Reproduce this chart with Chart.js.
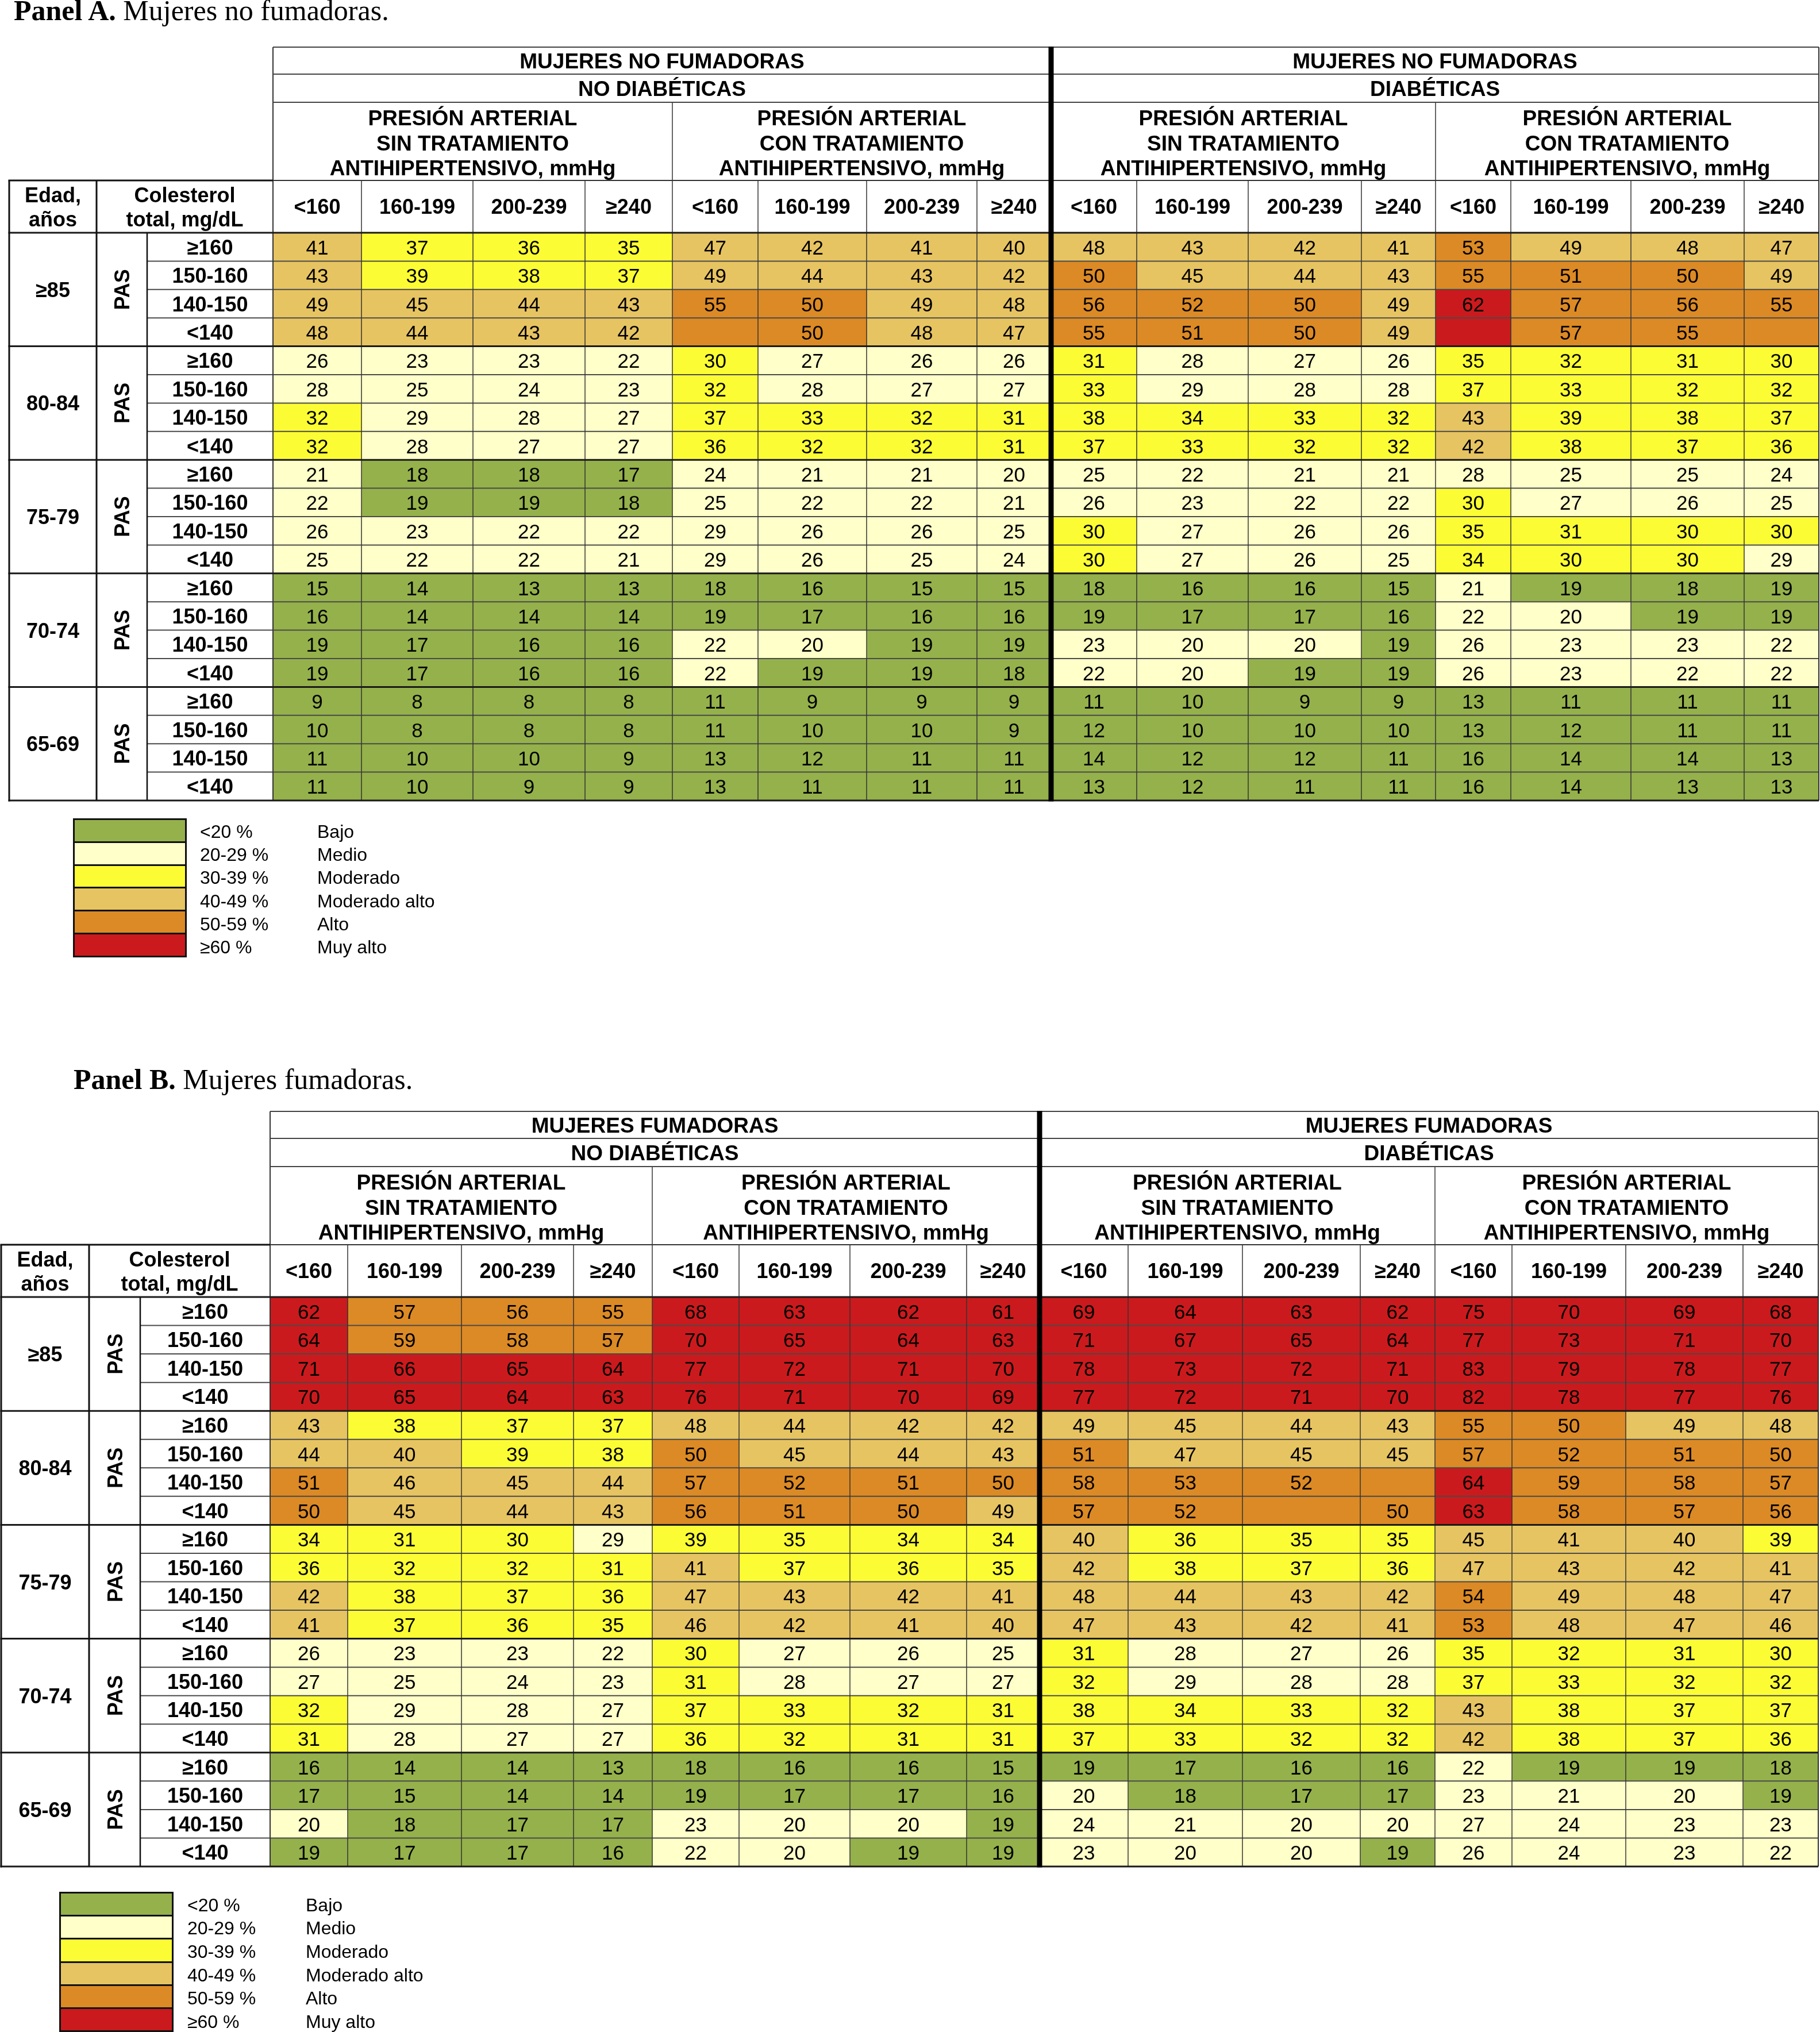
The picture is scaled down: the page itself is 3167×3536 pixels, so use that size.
<!DOCTYPE html>
<html>
<head>
<meta charset="utf-8">
<script src="https://cdn.jsdelivr.net/npm/chart.js@4.4.1/dist/chart.umd.min.js"></script>
<style>
html,body{margin:0;padding:0;background:#fff;}
body{width:3167px;height:3536px;position:relative;overflow:hidden;}
.abs{position:absolute;}
.title{font-family:"Liberation Serif","Times New Roman",serif;font-size:50px;line-height:1;white-space:nowrap;color:#000;}
.lg{font-family:"Liberation Sans",Arial,Helvetica,sans-serif;font-size:32px;line-height:1;white-space:nowrap;color:#000;}
canvas{position:absolute;left:0;}
.sw{position:absolute;background:#111;box-sizing:border-box;padding:3px;display:flex;flex-direction:column;gap:3px;}
.sw div{flex:1;}
</style>
</head>
<body>
<canvas id="cA" width="3167" height="1760" style="top:0;width:3167px;height:1760px"></canvas>
<canvas id="cB" width="3167" height="1776" style="top:1760px;width:3167px;height:1776px"></canvas>
<div class="abs title" style="left:24px;top:-7px"><b>Panel A.</b> Mujeres no fumadoras.</div>
<div class="abs title" style="left:128px;top:1853px"><b>Panel B.</b> Mujeres fumadoras.</div>
<div id="legends"></div>
<script>
// ---------------- DATA ----------------
const AGE_GROUPS = ['≥85', '80-84', '75-79', '70-74', '65-69'];
const PAS_LEVELS = ['≥160', '150-160', '140-150', '<140'];
const CHOL_LEVELS = ['<160', '160-199', '200-239', '≥240'];
const LEVEL_RANGES = ['<20 %', '20-29 %', '30-39 %', '40-49 %', '50-59 %', '≥60 %'];
const LEVEL_NAMES = ['Bajo', 'Medio', 'Moderado', 'Moderado alto', 'Alto', 'Muy alto'];
const TITLE_A = 'MUJERES NO FUMADORAS';
const TITLE_B = 'MUJERES FUMADORAS';
const DIAB_LABELS = ['NO DIABÉTICAS', 'DIABÉTICAS'];
const TREAT_LABELS = [
  ['PRESIÓN ARTERIAL', 'SIN TRATAMIENTO', 'ANTIHIPERTENSIVO, mmHg'],
  ['PRESIÓN ARTERIAL', 'CON TRATAMIENTO', 'ANTIHIPERTENSIVO, mmHg']
];

// Panel A (no fumadoras). 16 columns per row:
// no diabéticas sin tto | no diabéticas con tto | diabéticas sin tto | diabéticas con tto
const A_AGE_85 = [
  [41,37,36,35, 47,42,41,40, 48,43,42,41, 53,49,48,47],
  [43,39,38,37, 49,44,43,42, 50,45,44,43, 55,51,50,49],
  [49,45,44,43, 55,50,49,48, 56,52,50,49, 62,57,56,55],
  [48,44,43,42, null,50,48,47, 55,51,50,49, null,57,55,null]
];
const A_AGE_80 = [
  [26,23,23,22, 30,27,26,26, 31,28,27,26, 35,32,31,30],
  [28,25,24,23, 32,28,27,27, 33,29,28,28, 37,33,32,32],
  [32,29,28,27, 37,33,32,31, 38,34,33,32, 43,39,38,37],
  [32,28,27,27, 36,32,32,31, 37,33,32,32, 42,38,37,36]
];
const A_AGE_75 = [
  [21,18,18,17, 24,21,21,20, 25,22,21,21, 28,25,25,24],
  [22,19,19,18, 25,22,22,21, 26,23,22,22, 30,27,26,25],
  [26,23,22,22, 29,26,26,25, 30,27,26,26, 35,31,30,30],
  [25,22,22,21, 29,26,25,24, 30,27,26,25, 34,30,30,29]
];
const A_AGE_70 = [
  [15,14,13,13, 18,16,15,15, 18,16,16,15, 21,19,18,19],
  [16,14,14,14, 19,17,16,16, 19,17,17,16, 22,20,19,19],
  [19,17,16,16, 22,20,19,19, 23,20,20,19, 26,23,23,22],
  [19,17,16,16, 22,19,19,18, 22,20,19,19, 26,23,22,22]
];
const A_AGE_65 = [
  [9,8,8,8, 11,9,9,9, 11,10,9,9, 13,11,11,11],
  [10,8,8,8, 11,10,10,9, 12,10,10,10, 13,12,11,11],
  [11,10,10,9, 13,12,11,11, 14,12,12,11, 16,14,14,13],
  [11,10,9,9, 13,11,11,11, 13,12,11,11, 16,14,13,13]
];
// empty (coloured) cells: [row, column, risk level]
const A_BLANK_LEVELS = [[3,4,4],[3,12,5],[3,15,4]];

// Panel B (fumadoras)
const B_AGE_85 = [
  [62,57,56,55, 68,63,62,61, 69,64,63,62, 75,70,69,68],
  [64,59,58,57, 70,65,64,63, 71,67,65,64, 77,73,71,70],
  [71,66,65,64, 77,72,71,70, 78,73,72,71, 83,79,78,77],
  [70,65,64,63, 76,71,70,69, 77,72,71,70, 82,78,77,76]
];
const B_AGE_80 = [
  [43,38,37,37, 48,44,42,42, 49,45,44,43, 55,50,49,48],
  [44,40,39,38, 50,45,44,43, 51,47,45,45, 57,52,51,50],
  [51,46,45,44, 57,52,51,50, 58,53,52,null, 64,59,58,57],
  [50,45,44,43, 56,51,50,49, 57,52,null,50, 63,58,57,56]
];
const B_AGE_75 = [
  [34,31,30,29, 39,35,34,34, 40,36,35,35, 45,41,40,39],
  [36,32,32,31, 41,37,36,35, 42,38,37,36, 47,43,42,41],
  [42,38,37,36, 47,43,42,41, 48,44,43,42, 54,49,48,47],
  [41,37,36,35, 46,42,41,40, 47,43,42,41, 53,48,47,46]
];
const B_AGE_70 = [
  [26,23,23,22, 30,27,26,25, 31,28,27,26, 35,32,31,30],
  [27,25,24,23, 31,28,27,27, 32,29,28,28, 37,33,32,32],
  [32,29,28,27, 37,33,32,31, 38,34,33,32, 43,38,37,37],
  [31,28,27,27, 36,32,31,31, 37,33,32,32, 42,38,37,36]
];
const B_AGE_65 = [
  [16,14,14,13, 18,16,16,15, 19,17,16,16, 22,19,19,18],
  [17,15,14,14, 19,17,17,16, 20,18,17,17, 23,21,20,19],
  [20,18,17,17, 23,20,20,19, 24,21,20,20, 27,24,23,23],
  [19,17,17,16, 22,20,19,19, 23,20,20,19, 26,24,23,22]
];
const B_BLANK_LEVELS = [[6,11,4],[7,10,4]];

// ---------------- LAYOUT / STYLE ----------------
const PAGE_W = 3167;
const LEVEL_COLORS = ['#95b14b', '#ffffc9', '#fcfc34', '#e7c462', '#dc8a25', '#cb1a1d'];
const FONT = '"Liberation Sans", Arial, Helvetica, sans-serif';
// column edges (page px): table left, edad|, pas|, label|, then 16 data columns
const A_EDGES = [16,168,256,475, 629,823,1018,1170, 1319,1508,1700,1829, 1978,2172,2369,2498, 2629,2838,3035,3165];
const B_EDGES = [2,155,244,470, 605,803,998,1135, 1286,1479,1682,1809, 1963,2162,2367,2497, 2631,2829,3033,3164];
// header line offsets relative to data top
const HL = [-323, -276, -227, -91];

function levelOf(v) {
  if (v < 20) return 0; if (v < 30) return 1; if (v < 40) return 2;
  if (v < 50) return 3; if (v < 60) return 4; return 5;
}

function makePanel(rows, blanks, edges, title) {
  return {
    rows, edges, title,
    level(r, c) {
      const b = blanks.find(e => e[0] === r && e[1] === c);
      if (b) return b[2];
      return levelOf(rows[r][c]);
    }
  };
}

function tablePlugin(P) {
  return {
    id: 'riskTable',
    afterDatasetsDraw(chart) {
      const ctx = chart.ctx;
      const xs = chart.scales.x, ys = chart.scales.y;
      const X = i => xs.getPixelForValue(P.edges[i]);
      const step = ys.getPixelForValue(1) - ys.getPixelForValue(0);
      const rowTop = r => ys.getPixelForValue(0) - step / 2 + r * step;
      const T = rowTop(0), B = rowTop(20);
      const L = X(0), R = X(19);
      ctx.save();
      ctx.fillStyle = '#000';
      ctx.textAlign = 'center';
      ctx.textBaseline = 'alphabetic';

      // cell values
      ctx.font = '35px ' + FONT;
      chart.data.datasets.forEach((ds, c) => {
        chart.getDatasetMeta(c).data.forEach((el, r) => {
          const v = P.rows[r][c];
          if (v === null || v === undefined) return;
          const p = el.getCenterPoint();
          ctx.fillText(String(v), p.x, p.y + 13);
        });
      });

      // left labels
      ctx.font = 'bold 36px ' + FONT;
      for (let r = 0; r < 20; r++) {
        ctx.fillText(PAS_LEVELS[r % 4], (X(2) + X(3)) / 2, ys.getPixelForValue(r) + 13);
      }
      AGE_GROUPS.forEach((g, k) => {
        const yc = (rowTop(4 * k) + rowTop(4 * k + 4)) / 2;
        ctx.fillText(g, (X(0) + X(1)) / 2, yc + 13);
        ctx.save();
        ctx.translate((X(1) + X(2)) / 2, yc);
        ctx.rotate(-Math.PI / 2);
        ctx.fillText('PAS', 0, 13);
        ctx.restore();
      });

      // headers
      const mid = (a, b) => (X(a) + X(b)) / 2;
      ctx.font = 'bold 37px ' + FONT;
      ctx.fillText(P.title, mid(3, 11), T - 286);
      ctx.fillText(P.title, mid(11, 19), T - 286);
      ctx.fillText(DIAB_LABELS[0], mid(3, 11), T - 238);
      ctx.fillText(DIAB_LABELS[1], mid(11, 19), T - 238);
      for (let g = 0; g < 4; g++) {
        const lines = TREAT_LABELS[g % 2];
        const xc = mid(3 + 4 * g, 7 + 4 * g);
        ctx.fillText(lines[0], xc, T - 187);
        ctx.fillText(lines[1], xc, T - 143.5);
        ctx.fillText(lines[2], xc, T - 100);
      }
      ctx.font = 'bold 36px ' + FONT;
      for (let c = 0; c < 16; c++) {
        ctx.fillText(CHOL_LEVELS[c % 4], mid(3 + c, 4 + c), T - 33);
      }
      ctx.fillText('Edad,', mid(0, 1), T - 53);
      ctx.fillText('años', mid(0, 1), T - 11.5);
      ctx.fillText('Colesterol', mid(1, 3), T - 53);
      ctx.fillText('total, mg/dL', mid(1, 3), T - 11.5);

      // lines
      const hline = (y, x0, x1, w, col) => { ctx.beginPath(); ctx.lineWidth = w; ctx.strokeStyle = col; ctx.moveTo(x0, y); ctx.lineTo(x1, y); ctx.stroke(); };
      const vline = (x, y0, y1, w, col) => { ctx.beginPath(); ctx.lineWidth = w; ctx.strokeStyle = col; ctx.moveTo(x, y0); ctx.lineTo(x, y1); ctx.stroke(); };
      // row separators within age groups
      for (let r = 1; r < 20; r++) {
        if (r % 4 !== 0) hline(rowTop(r), X(2), R, 2, '#4a4a4a');
      }
      // column lines
      [4,5,6,8,9,10,12,13,14,16,17,18].forEach(i => vline(X(i), T + HL[3], B, 1.5, '#333'));
      [7,15].forEach(i => vline(X(i), T + HL[2], B, 1.5, '#333'));
      [3,19].forEach(i => vline(X(i), T + HL[0], B, 2, '#333'));
      // header horizontals
      hline(T + HL[0], X(3), R, 2, '#444');
      hline(T + HL[1], X(3), R, 2, '#444');
      hline(T + HL[2], X(3), R, 2, '#444');
      hline(T + HL[3], X(3), R, 2, '#333');
      hline(T + HL[3], L - 1.5, X(3), 3, '#111');
      // age group separators
      for (let r = 0; r <= 20; r += 4) hline(rowTop(r), L - 1.5, R, 3, '#1a1a1a');
      // left frame
      vline(X(0), T + HL[3], B + 1.5, 3, '#111');
      vline(X(1), T + HL[3], B, 3, '#111');
      vline(X(2), T, B, 2.5, '#111');
      // thick center separator
      vline(X(11), T + HL[0] - 1, B + 1.5, 9, '#000');
      ctx.restore();
    }
  };
}

function buildChart(id, P, padTop, padBottom) {
  const labels = [];
  AGE_GROUPS.forEach(g => PAS_LEVELS.forEach(p => labels.push(g + ' · ' + p)));
  const datasets = [];
  for (let c = 0; c < 16; c++) {
    datasets.push({
      label: CHOL_LEVELS[c % 4],
      data: P.rows.map(() => [P.edges[c + 3], P.edges[c + 4]]),
      backgroundColor: (cx) => LEVEL_COLORS[P.level(cx.dataIndex, c)],
      borderWidth: 0,
      grouped: false,
      barPercentage: 1,
      categoryPercentage: 1
    });
  }
  return new Chart(document.getElementById(id), {
    type: 'bar',
    data: { labels, datasets },
    options: {
      indexAxis: 'y',
      responsive: false,
      animation: false,
      devicePixelRatio: 1,
      events: [],
      layout: { padding: { top: padTop, bottom: padBottom, left: 0, right: 0 } },
      scales: {
        x: { type: 'linear', display: false, min: 0, max: PAGE_W },
        y: { type: 'category', display: false, offset: true }
      },
      plugins: { legend: { display: false }, tooltip: { enabled: false }, title: { display: false } }
    },
    plugins: [tablePlugin(P)]
  });
}

const PANEL_A = makePanel([...A_AGE_85, ...A_AGE_80, ...A_AGE_75, ...A_AGE_70, ...A_AGE_65], A_BLANK_LEVELS, A_EDGES, TITLE_A);
const PANEL_B = makePanel([...B_AGE_85, ...B_AGE_80, ...B_AGE_75, ...B_AGE_70, ...B_AGE_65], B_BLANK_LEVELS, B_EDGES, TITLE_B);

// Panel A: data rows 405..1393 in a 1760px canvas at top 0
buildChart('cA', PANEL_A, 405, 1760 - 1393);
// Panel B: data rows 2257..3248 in a 1776px canvas at top 1760
buildChart('cB', PANEL_B, 2257 - 1760, 1776 - (3248 - 1760));

// colour keys
function buildLegend(left, top, w, h, textX1, textX2) {
  const host = document.getElementById('legends');
  const sw = document.createElement('div');
  sw.className = 'sw';
  sw.style.left = left + 'px'; sw.style.top = top + 'px';
  sw.style.width = w + 'px'; sw.style.height = h + 'px';
  LEVEL_COLORS.forEach(c => { const d = document.createElement('div'); d.style.background = c; sw.appendChild(d); });
  host.appendChild(sw);
  const rowH = h / 6;
  const fs = 32;
  LEVEL_RANGES.forEach((t, i) => {
    const yc = top + rowH * (i + 0.5) + 2;
    const a = document.createElement('div');
    a.className = 'abs lg'; a.textContent = t;
    a.style.left = textX1 + 'px'; a.style.top = (yc - 0.4885 * fs) + 'px';
    host.appendChild(a);
    const b = document.createElement('div');
    b.className = 'abs lg'; b.textContent = LEVEL_NAMES[i];
    b.style.left = textX2 + 'px'; b.style.top = (yc - 0.4885 * fs) + 'px';
    host.appendChild(b);
  });
}
buildLegend(127, 1424, 198, 242, 348, 552);
buildLegend(103, 3292, 199, 244, 326, 532);
</script>
</body>
</html>
